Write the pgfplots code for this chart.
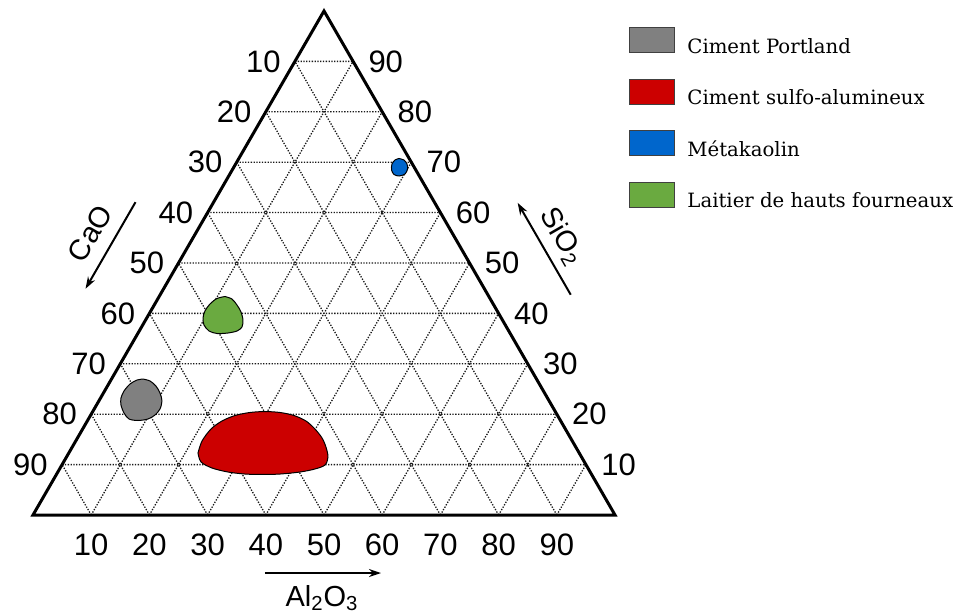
\documentclass[border=0pt]{standalone}
\usepackage{fontspec}
\setmainfont{Liberation Sans}
\newfontfamily\legendfont{DejaVu Serif}
\usepackage{pgfplots}
\usepackage{pgfplotstable}
\pgfplotsset{compat=1.18}
\usetikzlibrary{arrows.meta}
\definecolor{cgray}{RGB}{128,128,128}
\definecolor{cred}{RGB}{204,0,0}
\definecolor{cblue}{RGB}{0,102,204}
\definecolor{cgreen}{RGB}{106,170,64}

% ternary compositions: a = Al2O3 (%), s = SiO2 (%), CaO = 100 - a - s
\pgfplotstableread{
a s
5.41 26.98
6.81 26.59
8.33 25.59
9.72 24.20
10.85 22.62
11.30 21.03
11.04 19.84
10.24 19.05
8.67 18.75
6.97 19.05
5.52 20.24
4.21 21.82
3.51 23.21
3.34 24.60
3.67 25.99
4.48 26.78
5.41 26.98
}\portland

\pgfplotstableread{
a s
22.20 12.30
21.70 14.68
22.05 17.06
23.14 18.65
24.84 19.74
27.11 20.34
29.59 20.53
32.27 20.34
34.98 19.74
37.58 18.65
39.92 17.06
42.02 15.28
43.59 13.49
44.93 11.51
45.21 9.92
43.88 9.13
41.61 8.53
38.37 8.13
35.33 8.04
32.36 8.13
29.23 8.53
26.10 9.32
23.61 10.52
22.20 12.30
}\sulfo

\pgfplotstableread{
a s
27.52 70.73
28.53 70.43
29.44 69.64
30.02 68.65
30.09 67.65
29.26 67.26
28.25 67.56
27.38 68.45
26.86 69.64
26.98 70.43
27.52 70.73
}\metakaolin

\pgfplotstableread{
a s
11.31 43.35
12.76 42.85
14.22 41.66
15.60 40.28
16.73 38.69
17.26 37.30
16.80 36.51
15.45 36.11
13.61 36.01
11.99 36.51
10.53 37.70
9.67 39.08
9.31 40.47
9.48 41.86
10.13 42.95
11.31 43.35
}\laitier

\begin{document}
\begin{tikzpicture}
\begin{axis}[
  scale only axis, width=478.5pt, height=307.5pt,
  xmin=-5.670, xmax=158.76, ymin=-17.18, ymax=88.49,
  hide axis, clip=false,
  legend cell align=left,
  legend style={at={(axis cs:102.41,83.85)}, anchor=north west, draw=none, fill=none,
    inner sep=0pt, row sep=11.0pt, column sep=6pt,
    font=\legendfont\fontsize{9.85}{12}\selectfont, nodes={inner sep=0pt}},
  legend image code/.code={\draw[#1, draw=black!75, line width=0.5pt] (0pt,-2.6pt) rectangle (22.5pt,9.9pt);},
  ternary/.style={smooth, draw=black, line width=0.5pt},
]
% bounding frame
\addplot[draw=none, forget plot] coordinates {(-5.670,-17.18) (158.76,88.49)};

% dotted grid
\addplot[forget plot, black!90, line width=0.65pt, dash pattern=on 0.65pt off 0.75pt, unbounded coords=jump] coordinates {
(5,8.660) (95,8.660) (nan,nan)
(10,17.321) (90,17.321) (nan,nan)
(15,25.981) (85,25.981) (nan,nan)
(20,34.641) (80,34.641) (nan,nan)
(25,43.301) (75,43.301) (nan,nan)
(30,51.962) (70,51.962) (nan,nan)
(35,60.622) (65,60.622) (nan,nan)
(40,69.282) (60,69.282) (nan,nan)
(45,77.942) (55,77.942) (nan,nan)
(10,0) (55,77.942) (nan,nan)
(20,0) (60,69.282) (nan,nan)
(30,0) (65,60.622) (nan,nan)
(40,0) (70,51.962) (nan,nan)
(50,0) (75,43.301) (nan,nan)
(60,0) (80,34.641) (nan,nan)
(70,0) (85,25.981) (nan,nan)
(80,0) (90,17.321) (nan,nan)
(90,0) (95,8.660) (nan,nan)
(10,0) (5,8.660) (nan,nan)
(20,0) (10,17.321) (nan,nan)
(30,0) (15,25.981) (nan,nan)
(40,0) (20,34.641) (nan,nan)
(50,0) (25,43.301) (nan,nan)
(60,0) (30,51.962) (nan,nan)
(70,0) (35,60.622) (nan,nan)
(80,0) (40,69.282) (nan,nan)
(90,0) (45,77.942)
};

% composition domains
\addplot[ternary, fill=cgray] table[x expr=\thisrow{a}+0.5*\thisrow{s}, y expr=0.8660254*\thisrow{s}] {\portland} -- cycle;
\addlegendentry{Ciment Portland}
\addplot[ternary, fill=cred] table[x expr=\thisrow{a}+0.5*\thisrow{s}, y expr=0.8660254*\thisrow{s}] {\sulfo} -- cycle;
\addlegendentry{Ciment sulfo-alumineux}
\addplot[ternary, fill=cblue] table[x expr=\thisrow{a}+0.5*\thisrow{s}, y expr=0.8660254*\thisrow{s}] {\metakaolin} -- cycle;
\addlegendentry{Métakaolin}
\addplot[ternary, fill=cgreen] table[x expr=\thisrow{a}+0.5*\thisrow{s}, y expr=0.8660254*\thisrow{s}] {\laitier} -- cycle;
\addlegendentry{Laitier de hauts fourneaux}

% triangle
\addplot[forget plot, black, line width=1.5pt, line join=miter] coordinates {(0,0) (100,0) (50,86.603)} -- cycle;

% tick labels
\begin{scope}[every node/.style={font=\fontsize{15.5}{18}\selectfont, inner sep=0pt}]
\node at (axis cs:10,-5.15) {10};
\node at (axis cs:20,-5.15) {20};
\node at (axis cs:30,-5.15) {30};
\node at (axis cs:40,-5.15) {40};
\node at (axis cs:50,-5.15) {50};
\node at (axis cs:60,-5.15) {60};
\node at (axis cs:70,-5.15) {70};
\node at (axis cs:80,-5.15) {80};
\node at (axis cs:90,-5.15) {90};
\node[anchor=east, xshift=-7pt] at (axis cs:45,77.942) {10};
\node[anchor=east, xshift=-7pt] at (axis cs:40,69.282) {20};
\node[anchor=east, xshift=-7pt] at (axis cs:35,60.622) {30};
\node[anchor=east, xshift=-7pt] at (axis cs:30,51.962) {40};
\node[anchor=east, xshift=-7pt] at (axis cs:25,43.301) {50};
\node[anchor=east, xshift=-7pt] at (axis cs:20,34.641) {60};
\node[anchor=east, xshift=-7pt] at (axis cs:15,25.981) {70};
\node[anchor=east, xshift=-7pt] at (axis cs:10,17.321) {80};
\node[anchor=east, xshift=-7pt] at (axis cs:5,8.660) {90};
\node[anchor=west, xshift=7.5pt] at (axis cs:55,77.942) {90};
\node[anchor=west, xshift=7.5pt] at (axis cs:60,69.282) {80};
\node[anchor=west, xshift=7.5pt] at (axis cs:65,60.622) {70};
\node[anchor=west, xshift=7.5pt] at (axis cs:70,51.962) {60};
\node[anchor=west, xshift=7.5pt] at (axis cs:75,43.301) {50};
\node[anchor=west, xshift=7.5pt] at (axis cs:80,34.641) {40};
\node[anchor=west, xshift=7.5pt] at (axis cs:85,25.981) {30};
\node[anchor=west, xshift=7.5pt] at (axis cs:90,17.321) {20};
\node[anchor=west, xshift=7.5pt] at (axis cs:95,8.660) {10};
\end{scope}

% axis titles and arrows
\begin{scope}[every node/.style={font=\fontsize{14.5}{17}\selectfont, inner sep=0pt}]
\node at (axis cs:49.66,-14.26) {Al\textsubscript{2}O\textsubscript{3}};
\node[rotate=60] at (axis cs:9.79,48.40) {CaO};
\node[rotate=-60] at (axis cs:90.84,47.82) {SiO\textsubscript{2}};
\end{scope}
\draw[line width=1pt, -{Stealth[length=6pt, width=4pt]}] (axis cs:39.86,-9.97) -- (axis cs:59.79,-9.97);
\draw[line width=1pt, -{Stealth[length=6pt, width=4pt]}] (axis cs:17.61,53.75) -- (axis cs:9.02,38.87);
\draw[line width=1pt, -{Stealth[length=6pt, width=4pt]}] (axis cs:92.39,37.85) -- (axis cs:83.28,53.63);
\end{axis}
\end{tikzpicture}
\end{document}
